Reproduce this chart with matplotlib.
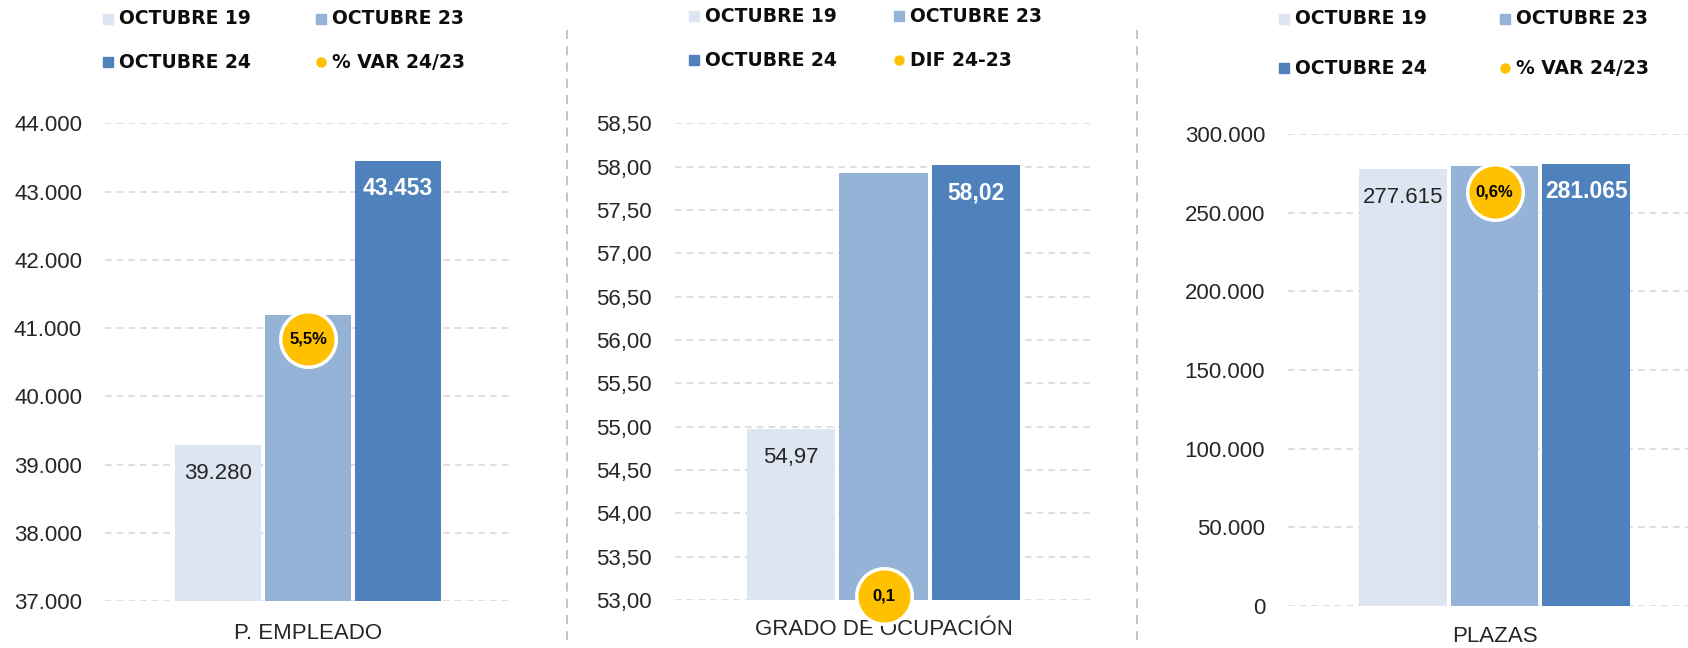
import matplotlib
matplotlib.use('Agg')
import matplotlib.pyplot as plt
from matplotlib.lines import Line2D

W, H = 1688, 648

# datos
series = ['OCTUBRE 19', 'OCTUBRE 23', 'OCTUBRE 24']
categorias = ['P. EMPLEADO', 'GRADO DE OCUPACIÓN', 'PLAZAS']
empleado = [39280, 41190, 43453]
ocupacion = [54.97, 57.93, 58.02]
plazas = [277615, 279400, 281065]
ext_labels = ['% VAR 24/23', 'DIF 24-23', '% VAR 24/23']

colores = ['#DCE5F1', '#95B3D7', '#4F81BD']
amarillo = '#FFC000'
txt = '#262626'
tick_font = 'Liberation Sans'


def miles(v):
    return f'{v:,.0f}'.replace(',', '.')


def dec2(v):
    return f'{v:.2f}'.replace('.', ',')


def px_axes(left, top, right, bottom):
    return fig.add_axes([left / W, 1 - bottom / H, (right - left) / W, (bottom - top) / H])


fig = plt.figure(figsize=(W / 100, H / 100), dpi=100)

# posiciones de cada panel en pixeles (left, top, right, bottom)
paneles = [
    dict(box=(105, 123.3, 511, 601), ylim=(37000, 44000), step=1000, fmt=miles,
         sec=(0, 0.1), xpad=15.5, leg=(108, 19, 321, 62)),
    dict(box=(675, 123.3, 1092, 600), ylim=(53, 58.5), step=0.5, fmt=dec2,
         sec=(0, 12), xpad=13.5, leg=(694, 16, 899, 60)),
    dict(box=(1288, 134, 1701, 606), ylim=(0, 300000), step=50000, fmt=miles,
         sec=(0, 0.0068), xpad=14.5, leg=(1284, 19, 1505, 68)),
]
valores = [empleado, ocupacion, plazas]

for i, p in enumerate(paneles):
    vals = valores[i]
    ax = px_axes(*p['box'])
    xs = [-1, 0, 1]
    ax.bar(xs, vals, width=0.955, color=colores, zorder=2)
    ax.set_xlim(-2.25, 2.25)
    lo, hi = p['ylim']
    ax.set_ylim(lo, hi)
    n = int(round((hi - lo) / p['step']))
    ticks = [lo + k * p['step'] for k in range(n + 1)]
    ax.set_yticks(ticks)
    ax.set_yticklabels([p['fmt'](t) for t in ticks], fontsize=16, color=txt, family=tick_font)
    ax.set_xticks([0])
    ax.set_xticklabels([categorias[i]], fontsize=16, color=txt, family=tick_font)
    ax.tick_params(axis='y', length=0, pad=16.5)
    ax.tick_params(axis='x', length=0, pad=p['xpad'])
    ax.grid(axis='y', color='#D9D9D9', linestyle=(0, (4, 3)), linewidth=1.2, zorder=0)
    for s in ax.spines.values():
        s.set_visible(False)

    # etiquetas de valor
    ax.annotate(p['fmt'](vals[0]), xy=(xs[0], vals[0]), xytext=(0, -28),
                textcoords='offset pixels', ha='center', va='center',
                fontsize=16, color=txt, family=tick_font, zorder=4)
    ax.annotate(p['fmt'](vals[2]), xy=(xs[2], vals[2]), xytext=(0, -28),
                textcoords='offset pixels', ha='center', va='center',
                fontsize=16.5, color='white', fontweight='bold', family=tick_font, zorder=4)

    # variacion en eje secundario
    ax2 = ax.twinx()
    ax2.set_ylim(*p['sec'])
    ax2.axis('off')
    if i == 1:
        var = vals[2] - vals[1]
        lab = f'{var:.1f}'.replace('.', ',')
    else:
        var = vals[2] / vals[1] - 1
        lab = f'{var * 100:.1f}%'.replace('.', ',')
    ax2.plot([0], [var], 'o', ms=40, mfc=amarillo, mec='white', mew=2.5,
             clip_on=False, zorder=5)
    ax2.text(0, var, lab, ha='center', va='center', fontsize=12,
             fontweight='bold', color='black', family=tick_font, zorder=6)

    # leyenda
    x1, y1, x2, y2 = p['leg']
    items = [(x1, y1, series[0], 's', colores[0]),
             (x2, y1, series[1], 's', colores[1]),
             (x1, y2, series[2], 's', colores[2]),
             (x2, y2, ext_labels[i], 'o', amarillo)]
    for lx, ly, name, mk, c in items:
        fig.add_artist(Line2D([lx / W], [1 - ly / H], marker=mk, color=c,
                              markersize=6.5, linestyle='none'))
        fig.text((lx + 11) / W, 1 - ly / H, name, ha='left', va='center',
                 fontsize=13.5, fontweight='bold', color='#0D0D0D')

# separadores
for xd in [567, 1137]:
    fig.add_artist(Line2D([xd / W, xd / W], [1 - 30 / H, 1 - 640 / H], color='#BFBFBF',
                          linestyle=(0, (5, 4)), linewidth=1.3))

fig.savefig('out.png', dpi=100)
